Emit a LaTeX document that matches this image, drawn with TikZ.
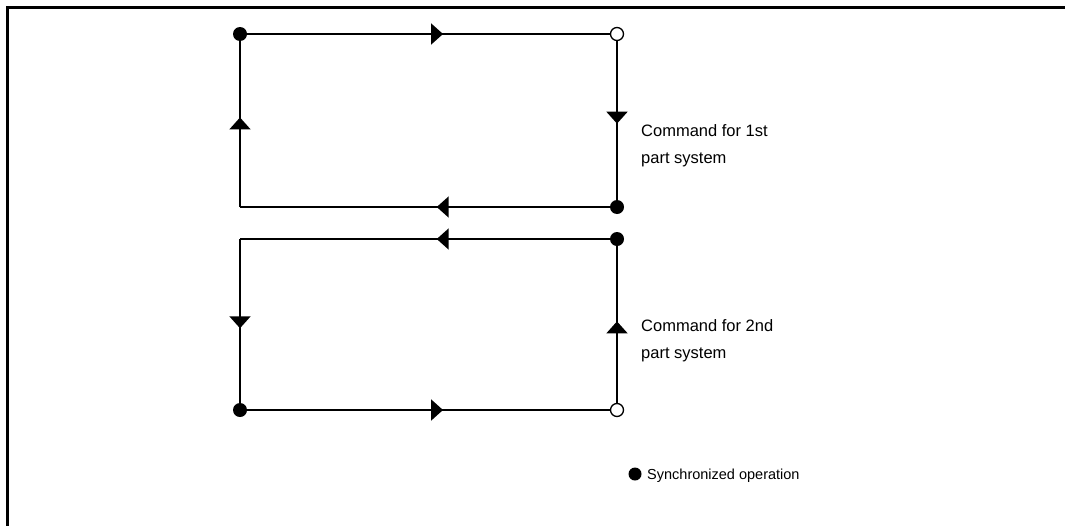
\documentclass[tikz,border=0pt]{standalone}
\usepackage{fontspec}
\setmainfont{Liberation Sans}
\usetikzlibrary{arrows.meta,decorations.markings}
\tikzset{
  sync/.style={circle,fill=black,inner sep=0pt,minimum size=14pt},
  opendot/.style={circle,draw=black,fill=white,line width=1.3pt,inner sep=0pt,minimum size=13pt},
  edge/.style={line width=2pt},
  midarrow/.style={postaction={decorate},decoration={markings,mark=at position #1 with {\arrow{Triangle[length=12pt,width=21pt]}}}},
  lbl/.style={anchor=base west,align=left,inner sep=0pt,font=\fontsize{16.5}{27}\selectfont}
}
\begin{document}
\begin{tikzpicture}[x=1pt,y=1pt]
\useasboundingbox (0,0) rectangle (1065,-525);
% frame
\draw[line width=3pt] (7,-526) -- (7,-7) -- (1066,-7);
% first part system
\node[sync] (A1) at (240,-34) {};
\node[opendot] (B1) at (617,-34) {};
\node[sync] (C1) at (617,-207) {};
\coordinate (D1) at (240,-207);
\draw[edge,midarrow=0.54] (A1) -- (B1);
\draw[edge,midarrow=0.52] (B1) -- (C1);
\draw[edge,midarrow=0.468] (C1) -- (D1);
\draw[edge,midarrow=0.54] (D1) -- (A1);
% second part system
\node[sync] (C2) at (617,-239) {};
\coordinate (D2) at (240,-239);
\node[sync] (A2) at (240,-410) {};
\node[opendot] (B2) at (617,-410) {};
\draw[edge,midarrow=0.468] (C2) -- (D2);
\draw[edge,midarrow=0.545] (D2) -- (A2);
\draw[edge,midarrow=0.54] (A2) -- (B2);
\draw[edge,midarrow=0.52] (B2) -- (C2);
% labels
\node[lbl] (L1) at (641,-163) {Command for 1st\\part system};
\node[lbl] (L2) at (641,-358) {Command for 2nd\\part system};
% legend
\node[sync,minimum size=13pt] (K) at (635,-474) {};
\node[lbl,font=\fontsize{14.5}{20}\selectfont] (KT) at (647,-479) {Synchronized operation};
\end{tikzpicture}
\end{document}
